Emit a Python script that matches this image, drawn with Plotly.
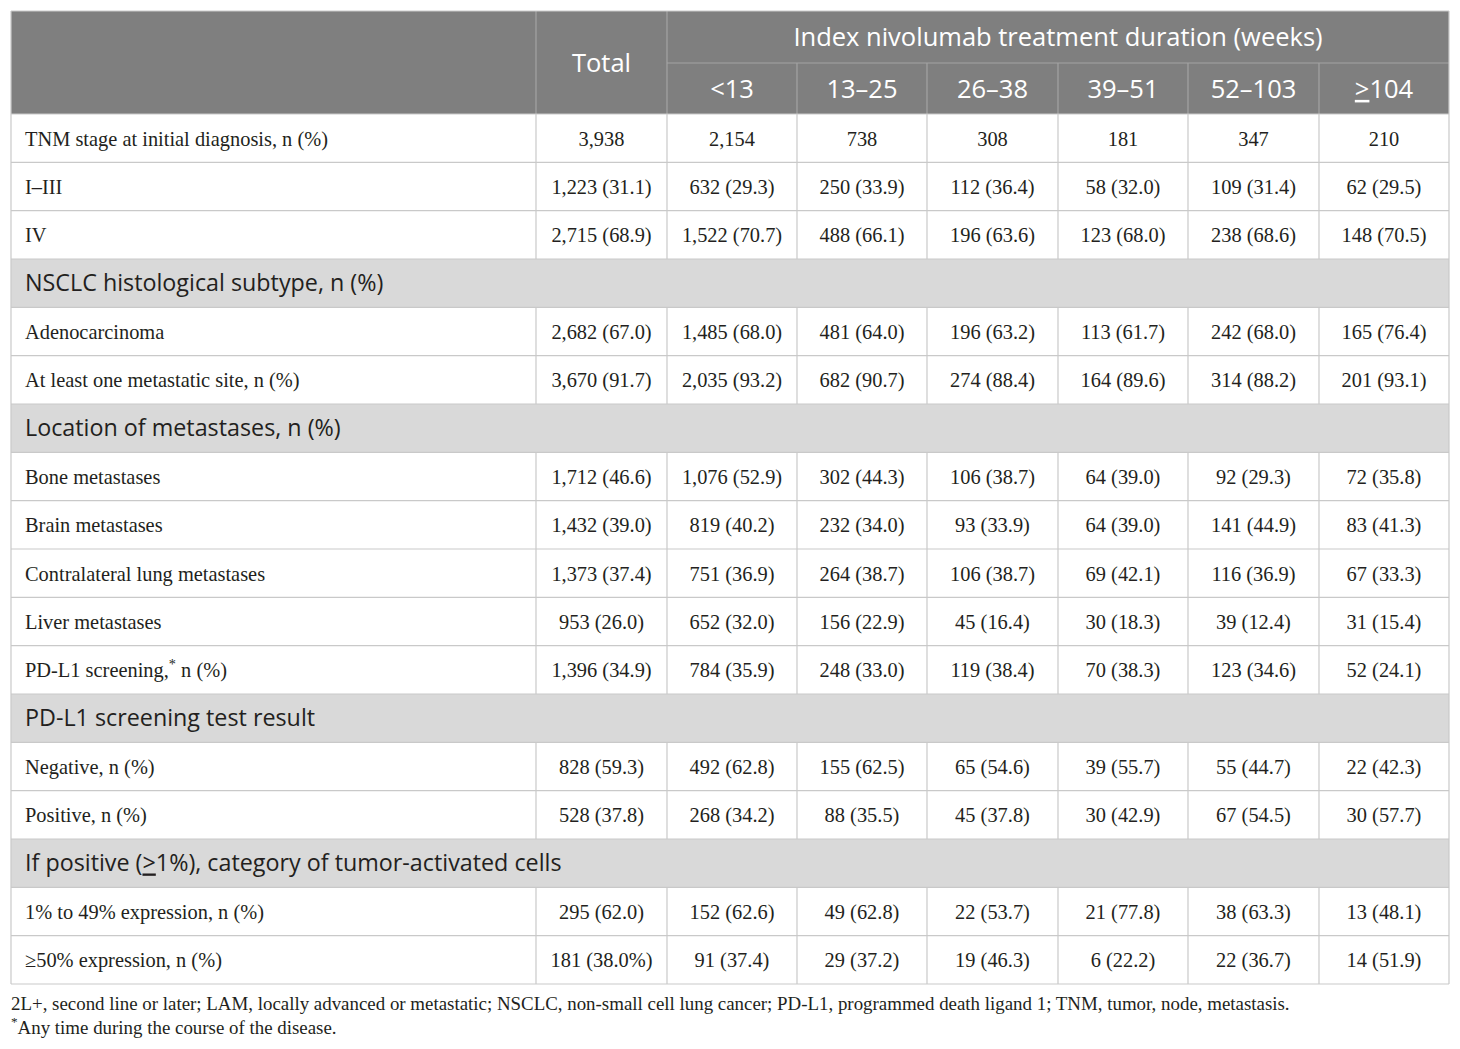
import plotly.graph_objects as go

# ---------------- data ----------------
col_headers = ["Total", "<13", "13\u201325", "26\u201338", "39\u201351", "52\u2013103", "<u>&gt;</u>104"]
group_header = "Index nivolumab treatment duration (weeks)"

row_labels = [
    "TNM stage at initial diagnosis, n (%)",
    "I\u2013III",
    "IV",
    "NSCLC histological subtype, n (%)",
    "Adenocarcinoma",
    "At least one metastatic site, n (%)",
    "Location of metastases, n (%)",
    "Bone metastases",
    "Brain metastases",
    "Contralateral lung metastases",
    "Liver metastases",
    "PD-L1 screening,<sup>*</sup> n (%)",
    "PD-L1 screening test result",
    "Negative, n (%)",
    "Positive, n (%)",
    "If positive (<u>&gt;</u>1%), category of tumor-activated cells",
    "1% to 49% expression, n (%)",
    "\u226550% expression, n (%)",
]
# section rows are marked by None values
total = ["3,938", "1,223 (31.1)", "2,715 (68.9)", None, "2,682 (67.0)", "3,670 (91.7)", None,
         "1,712 (46.6)", "1,432 (39.0)", "1,373 (37.4)", "953 (26.0)", "1,396 (34.9)", None,
         "828 (59.3)", "528 (37.8)", None, "295 (62.0)", "181 (38.0%)"]
wk_lt13 = ["2,154", "632 (29.3)", "1,522 (70.7)", None, "1,485 (68.0)", "2,035 (93.2)", None,
           "1,076 (52.9)", "819 (40.2)", "751 (36.9)", "652 (32.0)", "784 (35.9)", None,
           "492 (62.8)", "268 (34.2)", None, "152 (62.6)", "91 (37.4)"]
wk_13_25 = ["738", "250 (33.9)", "488 (66.1)", None, "481 (64.0)", "682 (90.7)", None,
            "302 (44.3)", "232 (34.0)", "264 (38.7)", "156 (22.9)", "248 (33.0)", None,
            "155 (62.5)", "88 (35.5)", None, "49 (62.8)", "29 (37.2)"]
wk_26_38 = ["308", "112 (36.4)", "196 (63.6)", None, "196 (63.2)", "274 (88.4)", None,
            "106 (38.7)", "93 (33.9)", "106 (38.7)", "45 (16.4)", "119 (38.4)", None,
            "65 (54.6)", "45 (37.8)", None, "22 (53.7)", "19 (46.3)"]
wk_39_51 = ["181", "58 (32.0)", "123 (68.0)", None, "113 (61.7)", "164 (89.6)", None,
            "64 (39.0)", "64 (39.0)", "69 (42.1)", "30 (18.3)", "70 (38.3)", None,
            "39 (55.7)", "30 (42.9)", None, "21 (77.8)", "6 (22.2)"]
wk_52_103 = ["347", "109 (31.4)", "238 (68.6)", None, "242 (68.0)", "314 (88.2)", None,
             "92 (29.3)", "141 (44.9)", "116 (36.9)", "39 (12.4)", "123 (34.6)", None,
             "55 (44.7)", "67 (54.5)", None, "38 (63.3)", "22 (36.7)"]
wk_ge104 = ["210", "62 (29.5)", "148 (70.5)", None, "165 (76.4)", "201 (93.1)", None,
            "72 (35.8)", "83 (41.3)", "67 (33.3)", "31 (15.4)", "52 (24.1)", None,
            "22 (42.3)", "30 (57.7)", None, "13 (48.1)", "14 (51.9)"]

footnotes = [
    "2L+, second line or later; LAM, locally advanced or metastatic; NSCLC, non-small cell lung cancer; "
    "PD-L1, programmed death ligand 1; TNM, tumor, node, metastasis.",
    "<sup>*</sup>Any time during the course of the disease.",
]

value_cols = [total, wk_lt13, wk_13_25, wk_26_38, wk_39_51, wk_52_103, wk_ge104]

# ---------------- layout geometry (page pixels) ----------------
W, H = 1460, 1049
PAGE_MARGIN = 8  # browser body margin around the plot div
col_edges = [11, 536, 667, 797, 927, 1058, 1188, 1319, 1449]
head_top, head_mid, head_bot = 11, 63, 114
body_bot = 984
n_rows = len(row_labels)
row_h = (body_bot - head_bot) / n_rows
row_edges = [head_bot + i * row_h for i in range(n_rows + 1)]
TEXT_DY = 2.5   # small downward nudge so glyphs sit centred like the reference
HEAD_DY = 3

HEAD_BG = "#7f7f7f"
HEAD_LINE = "#a3a3a3"
SEC_BG = "#d9d9d9"
GRID = "#c9c9c9"
TXT = "#231f20"
SERIF = "Liberation Serif"
SANS = "Open Sans"

shapes = []

def rect(x0, y0, x1, y1, color):
    shapes.append(dict(type="rect", xref="x", yref="y", x0=x0, y0=y0, x1=x1, y1=y1,
                       fillcolor=color, line=dict(width=0), layer="below"))

def line(x0, y0, x1, y1, color=GRID, w=1.2):
    shapes.append(dict(type="line", xref="x", yref="y", x0=x0, y0=y0, x1=x1, y1=y1,
                       line=dict(color=color, width=w), layer="above"))

# header background
rect(col_edges[0], head_top, col_edges[-1], head_bot, HEAD_BG)
# header inner lines
line(col_edges[1], head_top, col_edges[1], head_bot, HEAD_LINE)
line(col_edges[2], head_top, col_edges[2], head_bot, HEAD_LINE)
line(col_edges[2], head_mid, col_edges[-1], head_mid, HEAD_LINE)
for x in col_edges[3:-1]:
    line(x, head_mid, x, head_bot, HEAD_LINE)

# body
for i in range(n_rows):
    y0, y1 = row_edges[i], row_edges[i + 1]
    if total[i] is None:
        rect(col_edges[0], y0, col_edges[-1], y1, SEC_BG)
    else:
        for x in col_edges[1:-1]:
            line(x, y0, x, y1)
for y in row_edges:
    line(col_edges[0], y, col_edges[-1], y)
# outer border
line(col_edges[0], head_top, col_edges[0], body_bot)
line(col_edges[-1], head_top, col_edges[-1], body_bot)
line(col_edges[0], head_top, col_edges[-1], head_top)

fig = go.Figure()

HEAD_SIZE = 25.5
# header texts
fig.add_trace(go.Scatter(
    x=[(col_edges[1] + col_edges[2]) / 2, (col_edges[2] + col_edges[-1]) / 2],
    y=[(head_top + head_bot) / 2 + HEAD_DY, (head_top + head_mid) / 2 + HEAD_DY],
    text=[col_headers[0], group_header], mode="text", textposition="middle center",
    textfont=dict(family=SANS, size=HEAD_SIZE, color="white"), hoverinfo="skip"))
fig.add_trace(go.Scatter(
    x=[(col_edges[k] + col_edges[k + 1]) / 2 for k in range(2, 8)],
    y=[(head_mid + head_bot) / 2 + HEAD_DY] * 6,
    text=col_headers[1:], mode="text", textposition="middle center",
    textfont=dict(family=SANS, size=HEAD_SIZE, color="white"), hoverinfo="skip"))

# row labels
centers = [(row_edges[i] + row_edges[i + 1]) / 2 + TEXT_DY for i in range(n_rows)]
body_idx = [i for i in range(n_rows) if total[i] is not None]
sec_idx = [i for i in range(n_rows) if total[i] is None]
BODY_SIZE = 20.4
fig.add_trace(go.Scatter(
    x=[25] * len(body_idx), y=[centers[i] for i in body_idx],
    text=[row_labels[i] for i in body_idx], mode="text", textposition="middle right",
    textfont=dict(family=SERIF, size=BODY_SIZE, color=TXT), hoverinfo="skip"))
fig.add_trace(go.Scatter(
    x=[25] * len(sec_idx), y=[centers[i] for i in sec_idx],
    text=[row_labels[i] for i in sec_idx], mode="text", textposition="middle right",
    textfont=dict(family=SANS, size=23.3, color=TXT), hoverinfo="skip"))

# values
for k, col in enumerate(value_cols):
    xc = (col_edges[k + 1] + col_edges[k + 2]) / 2
    fig.add_trace(go.Scatter(
        x=[xc] * len(body_idx), y=[centers[i] for i in body_idx],
        text=[col[i] for i in body_idx], mode="text", textposition="middle center",
        textfont=dict(family=SERIF, size=BODY_SIZE, color=TXT), hoverinfo="skip"))

# footnotes
fig.add_trace(go.Scatter(
    x=[11, 11], y=[1005.5, 1029.5], text=footnotes, mode="text", textposition="middle right",
    textfont=dict(family=SERIF, size=18.9, color=TXT), hoverinfo="skip"))

fig.update_layout(
    width=W - PAGE_MARGIN, height=H - PAGE_MARGIN, margin=dict(l=0, r=0, t=0, b=0),
    paper_bgcolor="white", plot_bgcolor="white", showlegend=False, shapes=shapes,
    xaxis=dict(range=[PAGE_MARGIN, W], visible=False, fixedrange=True),
    yaxis=dict(range=[H, PAGE_MARGIN], visible=False, fixedrange=True),
)
fig.write_html("out.html")
